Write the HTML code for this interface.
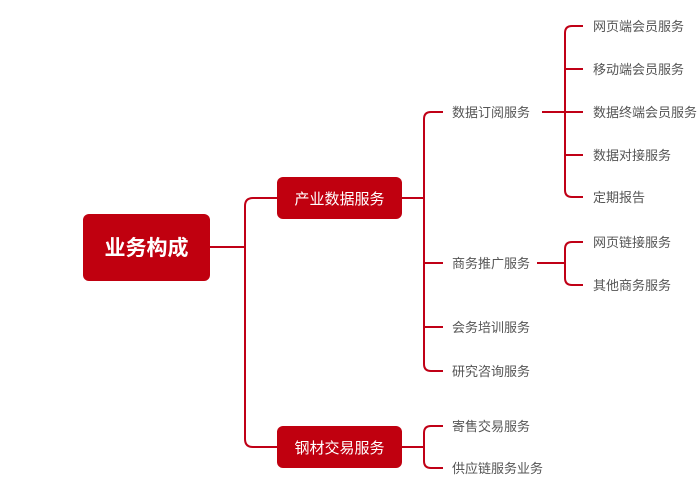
<!DOCTYPE html>
<html><head><meta charset="utf-8"><style>
html,body{margin:0;padding:0;background:#fff;width:699px;height:491px;overflow:hidden}
text{font-family:"Liberation Sans","Noto Sans CJK SC",sans-serif}
</style></head><body>
<svg width="699" height="491" viewBox="0 0 699 491" xmlns="http://www.w3.org/2000/svg">
<g fill="none" stroke="#c00016" stroke-width="2">
<!-- root -->
<path d="M210 247 H245"/>
<path d="M277 198 H253 Q245 198 245 206 V439 Q245 447 253 447 H277"/>
<!-- 产业数据服务 -->
<path d="M402 198 H424"/>
<path d="M443 112 H431 Q424 112 424 119 V364 Q424 371 431 371 H443"/>
<path d="M424 263 H443 M424 327 H443"/>
<!-- 钢材 -->
<path d="M402 447 H424"/>
<path d="M443 426 H431 Q424 426 424 433 V461 Q424 468 431 468 H443"/>
<!-- 数据订阅 -->
<path d="M542 112 H565"/>
<path d="M583 26 H572 Q565 26 565 33 V190 Q565 197 572 197 H583"/>
<path d="M565 69 H583 M565 112 H583 M565 155 H583"/>
<!-- 商务推广 -->
<path d="M537 263 H565"/>
<path d="M583 242 H572 Q565 242 565 249 V278 Q565 285 572 285 H583"/>
</g>
<rect x="83" y="214" width="127" height="67" rx="6" fill="#c0000f"/>
<text x="146.5" y="255" font-size="21" font-weight="bold" fill="#fff" text-anchor="middle">业务构成</text>
<rect x="277" y="177" width="125" height="42" rx="6" fill="#c0000f"/>
<text x="339.5" y="204" font-size="15" fill="#fff" text-anchor="middle">产业数据服务</text>
<rect x="277" y="426" width="125" height="42" rx="6" fill="#c0000f"/>
<text x="339.5" y="453" font-size="15" fill="#fff" text-anchor="middle">钢材交易服务</text>
<g font-size="13" fill="#555">
<text x="452" y="117">数据订阅服务</text>
<text x="452" y="268">商务推广服务</text>
<text x="452" y="332">会务培训服务</text>
<text x="452" y="376">研究咨询服务</text>
<text x="452" y="431">寄售交易服务</text>
<text x="452" y="473">供应链服务业务</text>
<text x="593" y="31">网页端会员服务</text>
<text x="593" y="74">移动端会员服务</text>
<text x="593" y="117">数据终端会员服务</text>
<text x="593" y="160">数据对接服务</text>
<text x="593" y="202">定期报告</text>
<text x="593" y="247">网页链接服务</text>
<text x="593" y="290">其他商务服务</text>
</g>
</svg>
</body></html>
